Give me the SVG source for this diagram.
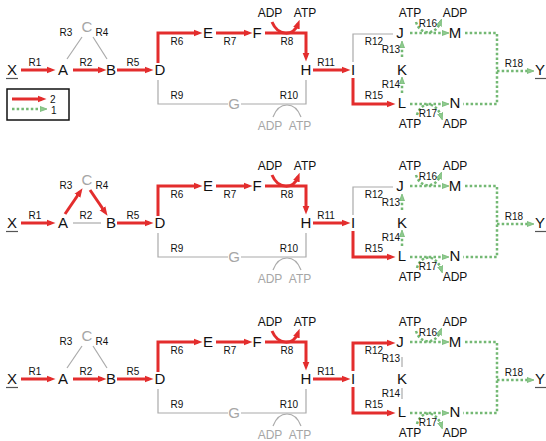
<svg xmlns="http://www.w3.org/2000/svg" width="546" height="441" viewBox="0 0 546 441">
<style>
text{font-family:"Liberation Sans",Arial,sans-serif;fill:#111}
.n{font-size:15px;text-anchor:middle}
.r{font-size:10px;text-anchor:middle}
.s{font-size:12px;text-anchor:middle}
.gt{fill:#a6a6a6}
.red{stroke:#e32d2d;stroke-width:3;fill:none;marker-end:url(#ar)}
.gl{stroke:#aaaaaa;stroke-width:1.2;fill:none}
.gr{stroke:#73b873;stroke-width:2.5;fill:none;stroke-dasharray:2.5 2.2;marker-end:url(#ag)}
.grn{stroke:#73b873;stroke-width:2.5;fill:none;stroke-dasharray:2.5 2.2}
.ul{stroke:#555;stroke-width:1.2}
</style>
<defs>
<marker id="ar" markerUnits="userSpaceOnUse" markerWidth="9" markerHeight="8" viewBox="0 0 9 8" refX="4.5" refY="4" orient="auto"><path d="M0,0.5 L9,4 L0,7.5 z" fill="#e32d2d"/></marker>
<marker id="ag" markerUnits="userSpaceOnUse" markerWidth="7" markerHeight="6" viewBox="0 0 7 6" refX="3" refY="3" orient="auto"><path d="M0,0.5 L7,3 L0,5.5 z" fill="#8fcb8f" stroke="#73b873" stroke-width="0.8"/></marker>
</defs>

<!-- Legend -->
<g id="legend">
<rect x="7" y="89" width="62" height="31" fill="#fff" stroke="#111" stroke-width="1.5"/>
<line class="red" x1="12" y1="99" x2="42" y2="99"/>
<text x="50" y="103" font-size="10">2</text>
<line class="gr" x1="12" y1="109" x2="43" y2="109"/>
<text x="51" y="114" font-size="10">1</text>
</g>

<!-- ===== Panel 1 ===== -->
<g id="panel1">
<g id="p1-connectors">
<line class="red" x1="21" y1="70" x2="51" y2="70"/>
<line class="red" x1="73" y1="70" x2="102" y2="70"/>
<line class="gl" x1="82" y1="37" x2="67" y2="59"/>
<line class="gl" x1="93" y1="37" x2="107" y2="59"/>
<line class="red" x1="117" y1="70" x2="149" y2="70"/>
<polyline class="red" points="158,63 158,33 198,33"/>
<line class="red" x1="216" y1="33" x2="248" y2="33"/>
<polyline class="red" points="265,33 306,33 306,57"/>
<path class="red" d="M272,22 C278,36 293,37 298,24"/>
<polyline class="gl" points="158,80 158,104 228,104"/>
<polyline class="gl" points="241,104 306,104 306,80"/>
<path class="gl" d="M273,117 C279,101 295,101 301,117"/>
<line class="red" x1="313" y1="70" x2="346" y2="70"/>
<polyline class="gl" points="353,62 353,34 393,34"/>
<polyline class="red" points="353,78 353,104 391,104"/>
<line class="gr" x1="402" y1="57" x2="402" y2="45"/>
<line class="gr" x1="402" y1="93" x2="402" y2="81"/>
<line class="gr" x1="410" y1="33" x2="445" y2="33"/>
<path class="gr" d="M416,22 C420,35 435,36 440,23"/>
<line class="gr" x1="410" y1="104" x2="445" y2="104"/>
<path class="gr" d="M417,115 C421,101 436,101 441,116"/>
<polyline class="grn" points="465,33 497,33 497,104 463,104"/>
<line class="gr" x1="497" y1="71" x2="530" y2="71"/>
</g>
<g id="p1-X"><text class="n" x="12" y="75">X</text><line class="ul" x1="6" y1="78.5" x2="18" y2="78.5"/></g>
<g id="p1-A"><text class="n" x="63" y="75">A</text></g>
<g id="p1-B"><text class="n" x="111" y="75">B</text></g>
<g id="p1-C"><text class="n gt" x="87" y="32">C</text></g>
<g id="p1-D"><text class="n" x="160" y="75">D</text></g>
<g id="p1-E"><text class="n" x="208" y="38">E</text></g>
<g id="p1-F"><text class="n" x="257" y="38">F</text></g>
<g id="p1-G"><text class="n gt" x="234" y="109">G</text></g>
<g id="p1-H"><text class="n" x="306" y="75">H</text></g>
<g id="p1-I"><text class="n" x="353" y="75">I</text></g>
<g id="p1-J"><text class="n" x="400" y="38">J</text></g>
<g id="p1-K"><text class="n" x="402" y="75">K</text></g>
<g id="p1-L"><text class="n" x="402" y="108">L</text></g>
<g id="p1-M"><text class="n" x="455" y="38">M</text></g>
<g id="p1-N"><text class="n" x="455" y="108">N</text></g>
<g id="p1-Y"><text class="n" x="540" y="75">Y</text><line class="ul" x1="535" y1="78.5" x2="546" y2="78.5"/></g>
<g id="p1-labels">
<text class="r" x="35" y="66">R1</text>
<text class="r" x="86" y="66">R2</text>
<text class="r" x="66" y="36">R3</text>
<text class="r" x="102" y="36">R4</text>
<text class="r" x="133" y="66">R5</text>
<text class="r" x="177" y="45">R6</text>
<text class="r" x="230" y="45">R7</text>
<text class="r" x="287" y="45">R8</text>
<text class="r" x="177" y="99">R9</text>
<text class="r" x="289" y="99">R10</text>
<text class="r" x="326" y="66">R11</text>
<text class="r" x="374" y="45">R12</text>
<text class="r" x="391" y="53">R13</text>
<text class="r" x="391" y="88">R14</text>
<text class="r" x="374" y="99">R15</text>
<text class="r" x="428" y="27">R16</text>
<text class="r" x="428" y="117">R17</text>
<text class="r" x="514" y="67">R18</text>
<text class="s" x="270" y="17">ADP</text>
<text class="s" x="305" y="17">ATP</text>
<text class="s gt" x="270" y="130">ADP</text>
<text class="s gt" x="300" y="130">ATP</text>
<text class="s" x="410" y="17">ATP</text>
<text class="s" x="455" y="17">ADP</text>
<text class="s" x="410" y="128">ATP</text>
<text class="s" x="455" y="128">ADP</text>
</g>
</g>

<!-- ===== Panel 2 ===== -->
<g id="panel2" transform="translate(0,153)">
<g id="p2-connectors">
<line class="red" x1="21" y1="70" x2="51" y2="70"/>
<line class="gl" x1="73" y1="70" x2="101" y2="70"/>
<line class="red" x1="65" y1="61" x2="80" y2="39"/>
<line class="red" x1="90" y1="37" x2="105" y2="59"/>
<line class="red" x1="117" y1="70" x2="149" y2="70"/>
<polyline class="red" points="158,63 158,33 198,33"/>
<line class="red" x1="216" y1="33" x2="248" y2="33"/>
<polyline class="red" points="265,33 306,33 306,57"/>
<path class="red" d="M272,22 C278,36 293,37 298,24"/>
<polyline class="gl" points="158,80 158,104 228,104"/>
<polyline class="gl" points="241,104 306,104 306,80"/>
<path class="gl" d="M273,117 C279,101 295,101 301,117"/>
<line class="red" x1="313" y1="70" x2="346" y2="70"/>
<polyline class="gl" points="353,62 353,34 393,34"/>
<polyline class="red" points="353,78 353,104 391,104"/>
<line class="gr" x1="402" y1="57" x2="402" y2="45"/>
<line class="gr" x1="402" y1="93" x2="402" y2="81"/>
<line class="gr" x1="410" y1="33" x2="445" y2="33"/>
<path class="gr" d="M416,22 C420,35 435,36 440,23"/>
<line class="gr" x1="410" y1="104" x2="445" y2="104"/>
<path class="gr" d="M417,115 C421,101 436,101 441,116"/>
<polyline class="grn" points="465,33 497,33 497,104 463,104"/>
<line class="gr" x1="497" y1="71" x2="530" y2="71"/>
</g>
<g id="p2-X"><text class="n" x="12" y="75">X</text><line class="ul" x1="6" y1="78.5" x2="18" y2="78.5"/></g>
<g id="p2-A"><text class="n" x="63" y="75">A</text></g>
<g id="p2-B"><text class="n" x="111" y="75">B</text></g>
<g id="p2-C"><text class="n gt" x="87" y="32">C</text></g>
<g id="p2-D"><text class="n" x="160" y="75">D</text></g>
<g id="p2-E"><text class="n" x="208" y="38">E</text></g>
<g id="p2-F"><text class="n" x="257" y="38">F</text></g>
<g id="p2-G"><text class="n gt" x="234" y="109">G</text></g>
<g id="p2-H"><text class="n" x="306" y="75">H</text></g>
<g id="p2-I"><text class="n" x="353" y="75">I</text></g>
<g id="p2-J"><text class="n" x="400" y="38">J</text></g>
<g id="p2-K"><text class="n" x="402" y="75">K</text></g>
<g id="p2-L"><text class="n" x="402" y="108">L</text></g>
<g id="p2-M"><text class="n" x="455" y="38">M</text></g>
<g id="p2-N"><text class="n" x="455" y="108">N</text></g>
<g id="p2-Y"><text class="n" x="540" y="75">Y</text><line class="ul" x1="535" y1="78.5" x2="546" y2="78.5"/></g>
<g id="p2-labels">
<text class="r" x="35" y="66">R1</text>
<text class="r" x="86" y="66">R2</text>
<text class="r" x="66" y="36">R3</text>
<text class="r" x="102" y="36">R4</text>
<text class="r" x="133" y="66">R5</text>
<text class="r" x="177" y="45">R6</text>
<text class="r" x="230" y="45">R7</text>
<text class="r" x="287" y="45">R8</text>
<text class="r" x="177" y="99">R9</text>
<text class="r" x="289" y="99">R10</text>
<text class="r" x="326" y="66">R11</text>
<text class="r" x="374" y="45">R12</text>
<text class="r" x="391" y="53">R13</text>
<text class="r" x="391" y="88">R14</text>
<text class="r" x="374" y="99">R15</text>
<text class="r" x="428" y="27">R16</text>
<text class="r" x="428" y="117">R17</text>
<text class="r" x="514" y="67">R18</text>
<text class="s" x="270" y="17">ADP</text>
<text class="s" x="305" y="17">ATP</text>
<text class="s gt" x="270" y="130">ADP</text>
<text class="s gt" x="300" y="130">ATP</text>
<text class="s" x="410" y="17">ATP</text>
<text class="s" x="455" y="17">ADP</text>
<text class="s" x="410" y="128">ATP</text>
<text class="s" x="455" y="128">ADP</text>
</g>
</g>

<!-- ===== Panel 3 ===== -->
<g id="panel3" transform="translate(0,309)">
<g id="p3-connectors">
<line class="red" x1="21" y1="70" x2="51" y2="70"/>
<line class="red" x1="73" y1="70" x2="102" y2="70"/>
<line class="gl" x1="82" y1="37" x2="67" y2="59"/>
<line class="gl" x1="93" y1="37" x2="107" y2="59"/>
<line class="red" x1="117" y1="70" x2="149" y2="70"/>
<polyline class="red" points="158,63 158,33 198,33"/>
<line class="red" x1="216" y1="33" x2="248" y2="33"/>
<polyline class="red" points="265,33 306,33 306,57"/>
<path class="red" d="M272,22 C278,36 293,37 298,24"/>
<polyline class="gl" points="158,80 158,104 228,104"/>
<polyline class="gl" points="241,104 306,104 306,80"/>
<path class="gl" d="M273,117 C279,101 295,101 301,117"/>
<line class="red" x1="313" y1="70" x2="346" y2="70"/>
<polyline class="red" points="353,62 353,34 391,34"/>
<polyline class="red" points="353,78 353,104 391,104"/>
<line class="gl" x1="402" y1="48" x2="402" y2="58"/>
<line class="gl" x1="402" y1="79" x2="402" y2="90"/>
<line class="gr" x1="410" y1="33" x2="445" y2="33"/>
<path class="gr" d="M416,22 C420,35 435,36 440,23"/>
<line class="gr" x1="410" y1="104" x2="445" y2="104"/>
<path class="gr" d="M417,115 C421,101 436,101 441,116"/>
<polyline class="grn" points="465,33 497,33 497,104 463,104"/>
<line class="gr" x1="497" y1="71" x2="530" y2="71"/>
</g>
<g id="p3-X"><text class="n" x="12" y="75">X</text><line class="ul" x1="6" y1="78.5" x2="18" y2="78.5"/></g>
<g id="p3-A"><text class="n" x="63" y="75">A</text></g>
<g id="p3-B"><text class="n" x="111" y="75">B</text></g>
<g id="p3-C"><text class="n gt" x="87" y="32">C</text></g>
<g id="p3-D"><text class="n" x="160" y="75">D</text></g>
<g id="p3-E"><text class="n" x="208" y="38">E</text></g>
<g id="p3-F"><text class="n" x="257" y="38">F</text></g>
<g id="p3-G"><text class="n gt" x="234" y="109">G</text></g>
<g id="p3-H"><text class="n" x="306" y="75">H</text></g>
<g id="p3-I"><text class="n" x="353" y="75">I</text></g>
<g id="p3-J"><text class="n" x="400" y="38">J</text></g>
<g id="p3-K"><text class="n" x="402" y="75">K</text></g>
<g id="p3-L"><text class="n" x="402" y="108">L</text></g>
<g id="p3-M"><text class="n" x="455" y="38">M</text></g>
<g id="p3-N"><text class="n" x="455" y="108">N</text></g>
<g id="p3-Y"><text class="n" x="540" y="75">Y</text><line class="ul" x1="535" y1="78.5" x2="546" y2="78.5"/></g>
<g id="p3-labels">
<text class="r" x="35" y="66">R1</text>
<text class="r" x="86" y="66">R2</text>
<text class="r" x="66" y="36">R3</text>
<text class="r" x="102" y="36">R4</text>
<text class="r" x="133" y="66">R5</text>
<text class="r" x="177" y="45">R6</text>
<text class="r" x="230" y="45">R7</text>
<text class="r" x="287" y="45">R8</text>
<text class="r" x="177" y="99">R9</text>
<text class="r" x="289" y="99">R10</text>
<text class="r" x="326" y="66">R11</text>
<text class="r" x="374" y="45">R12</text>
<text class="r" x="391" y="53">R13</text>
<text class="r" x="391" y="88">R14</text>
<text class="r" x="374" y="99">R15</text>
<text class="r" x="428" y="27">R16</text>
<text class="r" x="428" y="117">R17</text>
<text class="r" x="514" y="67">R18</text>
<text class="s" x="270" y="17">ADP</text>
<text class="s" x="305" y="17">ATP</text>
<text class="s gt" x="270" y="130">ADP</text>
<text class="s gt" x="300" y="130">ATP</text>
<text class="s" x="410" y="17">ATP</text>
<text class="s" x="455" y="17">ADP</text>
<text class="s" x="410" y="128">ATP</text>
<text class="s" x="455" y="128">ADP</text>
</g>
</g>
</svg>
